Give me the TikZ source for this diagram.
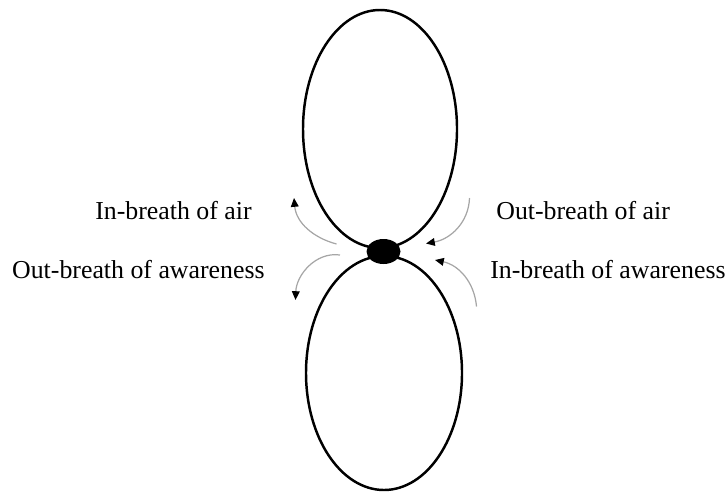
\documentclass[tikz,border=0pt]{standalone}
\usepackage{fontspec}
\setmainfont{Liberation Serif}
\usetikzlibrary{arrows.meta,shapes.geometric}
\tikzset{
  loopline/.style={line width=1.4pt, black},
  breath/.style={gray!70, line width=0.7pt,
    -{Triangle[length=5pt, width=4.4pt, color=black]}},
  breathlabel/.style={font=\fontsize{14.7}{17}\selectfont, inner sep=0pt}
}
\begin{document}
\begin{tikzpicture}
  \useasboundingbox (0,0) rectangle (14.56,9.86);
  % Two ellipses, one above the other, just touching at the knot.
  \coordinate (upC) at (7.60,7.28);
  \coordinate (loC) at (7.68,2.40);
  \draw[loopline] (upC) ellipse [x radius=1.54, y radius=2.38];
  \draw[loopline] (loC) ellipse [x radius=1.56, y radius=2.34];
  % The knot covers the point where they meet.
  \node[ellipse, fill=black, minimum width=0.68cm, minimum height=0.5cm,
        inner sep=0pt] (knot) at (7.67,4.83) {};

  % Ends of the four small arrows.
  \coordinate (inAirS)  at (6.73,4.98);
  \coordinate (inAirT)  at (5.88,5.90);
  \coordinate (outAirS) at (9.39,5.90);
  \coordinate (outAirT) at (8.52,4.99);
  \coordinate (outAwS)  at (6.80,4.76);
  \coordinate (outAwT)  at (5.91,3.86);
  \coordinate (inAwS)   at (9.53,3.73);
  \coordinate (inAwT)   at (8.70,4.66);

  \draw[breath] (inAirS)  to[out=165,in=-85] (inAirT);
  \draw[breath] (outAirS) to[out=-92,in=10]  (outAirT);
  \draw[breath] (outAwS)  to[out=172,in=88]  (outAwT);
  \draw[breath] (inAwS)   to[out=95,in=-12]  (inAwT);

  % Labels.
  \node[breathlabel, anchor=east] (inAir)  at (5.04,5.64) {In-breath of air};
  \node[breathlabel, anchor=west] (outAir) at (9.92,5.64) {Out-breath of air};
  \node[breathlabel, anchor=east] (outAw)  at (5.30,4.46) {Out-breath of awareness};
  \node[breathlabel, anchor=west] (inAw)   at (9.80,4.46) {In-breath of awareness};
\end{tikzpicture}
\end{document}
